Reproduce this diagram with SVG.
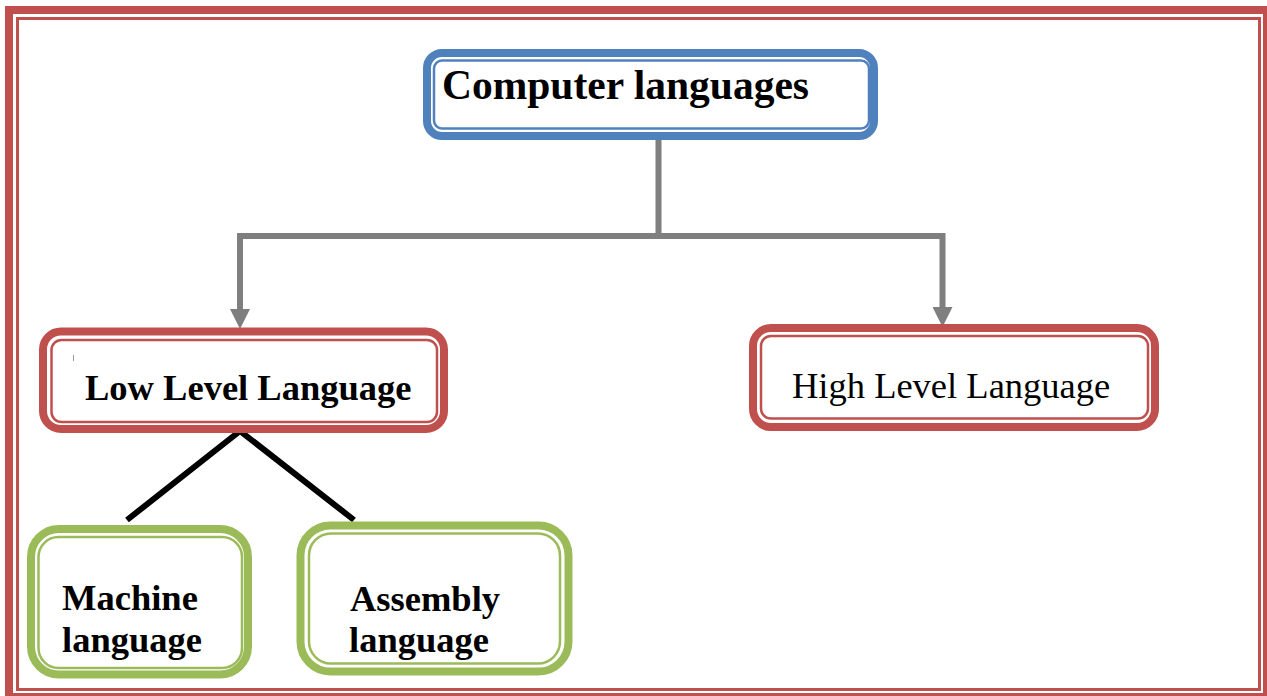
<svg xmlns="http://www.w3.org/2000/svg" width="1267" height="696" viewBox="0 0 1267 696">
  <style>
    .frame-outer { fill: none; stroke: #C0504D; stroke-width: 8; }
    .frame-inner { fill: none; stroke: #C0504D; stroke-width: 3; }
    .thick { fill: #FFFFFF; stroke-width: 8; }
    .thin { fill: none; stroke-width: 2.5; }
    .blue { stroke: #4F81BD; }
    .red { stroke: #C0504D; }
    .green { stroke: #9BBB59; }
    .label { font-family: "Liberation Serif", "Times New Roman", serif; fill: #000000; }
    .bold { font-weight: bold; }
    .link { fill: none; stroke: #7F7F7F; stroke-width: 6; stroke-linejoin: miter; }
    .split { fill: none; stroke: #000000; stroke-width: 6; stroke-linejoin: miter; }
  </style>
  <defs>
    <marker id="arrow" markerUnits="userSpaceOnUse" markerWidth="20" markerHeight="20" refX="0" refY="10" orient="auto" viewBox="0 0 20 20">
      <path d="M0,0 L20,10 L0,20 z" fill="#7F7F7F"/>
    </marker>
  </defs>

  <rect width="1267" height="696" fill="#FFFFFF"/>

  <!-- page frame -->
  <g id="frame">
    <rect class="frame-outer" x="9" y="10" width="1258" height="687"/>
    <rect class="frame-inner" x="17.5" y="18.5" width="1242" height="671"/>
  </g>

  <!-- connectors -->
  <g id="connectors">
    <path class="link" d="M658.5,136 V236 H240 V309" marker-end="url(#arrow)"/>
    <path class="link" d="M658.5,236 H942.5 V307" marker-end="url(#arrow)"/>
    <path class="split" d="M127,520 L240,431 L354,520"/>
  </g>

  <g id="node-computer-languages">
    <rect class="thick blue" x="427" y="53" width="447" height="83" rx="15"/>
    <rect class="thin blue" x="434" y="60.5" width="435" height="68" rx="8"/>
    <text class="label bold" x="442" y="99" font-size="41.5">Computer languages</text>
  </g>

  <g id="node-low-level">
    <rect class="thick red" x="43" y="331.5" width="401" height="97.5" rx="18"/>
    <rect class="thin red" x="51.5" y="340" width="385.5" height="82" rx="10"/>
    <line x1="73.5" y1="355" x2="73.5" y2="361" stroke="#999999" stroke-width="1"/>
    <text class="label bold" x="85" y="400" font-size="36.5">Low Level Language</text>
  </g>

  <g id="node-high-level">
    <rect class="thick red" x="753" y="328" width="402" height="99" rx="18"/>
    <rect class="thin red" x="761" y="336" width="387" height="82.5" rx="10"/>
    <text class="label" x="792" y="398" font-size="36.5">High Level Language</text>
  </g>

  <g id="node-machine">
    <rect class="thick green" x="31" y="529" width="217" height="145.5" rx="28"/>
    <rect class="thin green" x="38.5" y="537" width="203.5" height="131" rx="20"/>
    <text class="label bold" font-size="36.5">
      <tspan x="62" y="610">Machine</tspan>
      <tspan x="62" y="652">language</tspan>
    </text>
  </g>

  <g id="node-assembly">
    <rect class="thick green" x="300.5" y="525.5" width="268" height="146" rx="30"/>
    <rect class="thin green" x="309" y="533.5" width="251" height="130" rx="22"/>
    <text class="label bold" font-size="36.5">
      <tspan x="350" y="611">Assembly</tspan>
      <tspan x="349" y="652">language</tspan>
    </text>
  </g>
</svg>
